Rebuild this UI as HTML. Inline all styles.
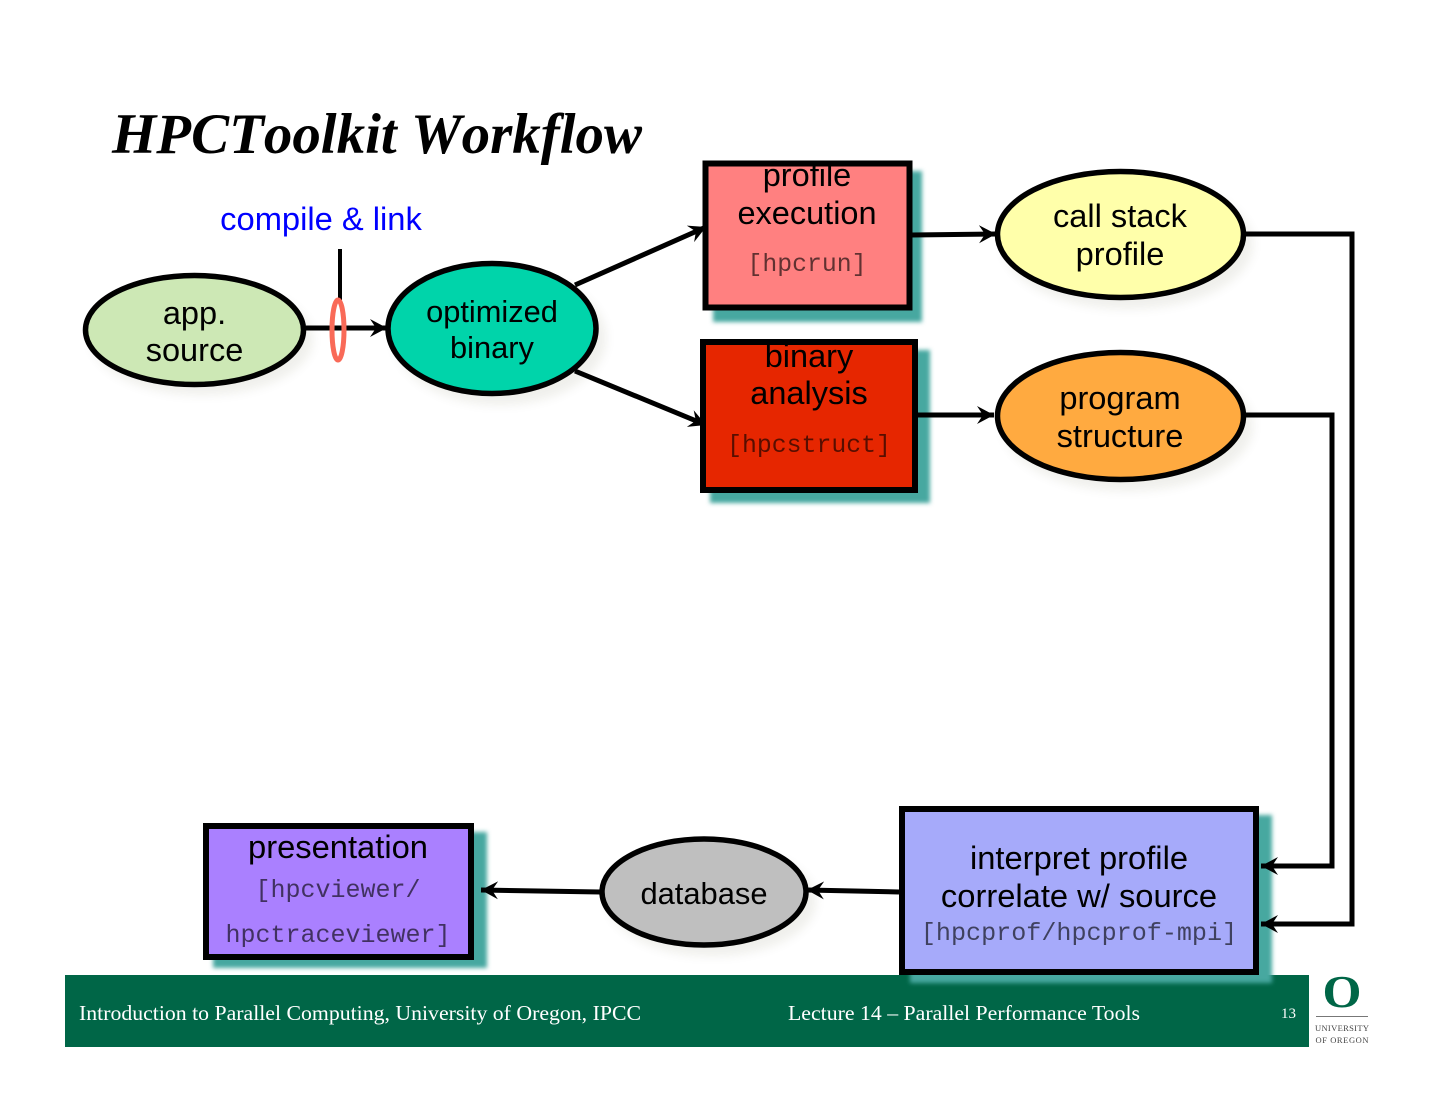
<!DOCTYPE html>
<html><head><meta charset="utf-8"><title>HPCToolkit Workflow</title>
<style>
html,body{margin:0;padding:0;background:#fff;width:1440px;height:1113px;overflow:hidden}
svg{display:block}
.s{font-family:"Liberation Sans",sans-serif;fill:#000;text-anchor:middle}
.m{font-family:"Liberation Mono",monospace;fill:#000;fill-opacity:.62;text-anchor:middle}
.f{font-family:"Liberation Serif",serif;fill:#fff;font-size:21px}
.c{fill:none;stroke:#000;stroke-width:5}
.b{stroke:#000;stroke-width:6}
.e{stroke:#000;stroke-width:5.5}
</style></head><body>
<svg width="1440" height="1113" viewBox="0 0 1440 1113" xmlns="http://www.w3.org/2000/svg">
<defs>
<filter id="bl" x="-20%" y="-20%" width="140%" height="140%"><feGaussianBlur stdDeviation="2.2"/></filter>
<filter id="bl2" x="-20%" y="-20%" width="140%" height="140%"><feGaussianBlur stdDeviation="5"/></filter>
<marker id="a" markerUnits="userSpaceOnUse" markerWidth="22" markerHeight="22" refX="17" refY="10" orient="auto">
<path d="M0 1 L17 10 L0 19 L6 10 Z" fill="#000"/></marker>
</defs>
<rect width="1440" height="1113" fill="#fff"/>

<text x="112" y="153" font-family="Liberation Serif,serif" font-weight="bold" font-style="italic" font-size="57" style="font-kerning:none" textLength="530" lengthAdjust="spacingAndGlyphs">HPCToolkit Workflow</text>

<!-- footer -->
<rect x="65" y="975" width="1244" height="72" fill="#006647"/>
<text class="f" x="79" y="1020" textLength="562" lengthAdjust="spacingAndGlyphs">Introduction to Parallel Computing, University of Oregon, IPCC</text>
<text class="f" x="788" y="1020" textLength="352" lengthAdjust="spacingAndGlyphs">Lecture 14 – Parallel Performance Tools</text>
<text x="1281" y="1018" font-family="Liberation Serif,serif" font-size="15" fill="#fff">13</text>
<text x="1342" y="1007" font-family="Liberation Serif,serif" font-weight="bold" font-size="45" fill="#006647" text-anchor="middle" textLength="39" lengthAdjust="spacingAndGlyphs">O</text>
<rect x="1316" y="1016" width="52" height="1" fill="#777"/>
<text x="1342" y="1031" font-family="Liberation Serif,serif" font-size="8.5" fill="#444" text-anchor="middle" textLength="54" lengthAdjust="spacing">UNIVERSITY</text>
<text x="1342" y="1043" font-family="Liberation Serif,serif" font-size="8.5" fill="#444" text-anchor="middle" textLength="53" lengthAdjust="spacing">OF OREGON</text>

<!-- shadows -->
<g fill="#5a5a30" opacity=".09" filter="url(#bl2)">
<ellipse cx="202" cy="339" rx="111" ry="56"/>
<ellipse cx="500" cy="338" rx="106" ry="67"/>
<ellipse cx="1128" cy="244" rx="125" ry="65"/>
<ellipse cx="1128" cy="426" rx="125" ry="65"/>
<ellipse cx="712" cy="901" rx="104" ry="55"/>
</g>
<g fill="#47a8a0" filter="url(#bl)">
<rect x="713" y="171" width="209" height="151"/>
<rect x="710" y="350" width="220" height="153"/>
<rect x="910" y="815" width="362" height="168"/>
<rect x="213" y="832" width="274" height="136"/>
</g>

<!-- connectors -->
<path class="c" d="M306 328 H387" marker-end="url(#a)"/>
<path d="M340 249 V300" stroke="#000" stroke-width="4" fill="none"/>
<path class="c" d="M575 285 L706 227" marker-end="url(#a)"/>
<path class="c" d="M575 371 L706 425" marker-end="url(#a)"/>
<path class="c" d="M912 235 L996 234" marker-end="url(#a)"/>
<path class="c" d="M918 415 H994" marker-end="url(#a)"/>
<path class="c" d="M1246 234 H1352 V924 H1261" marker-end="url(#a)"/>
<path class="c" d="M1246 415 H1332 V866 H1261" marker-end="url(#a)"/>
<path class="c" d="M899 892 L807 890" marker-end="url(#a)"/>
<path class="c" d="M600 892 L481 890" marker-end="url(#a)"/>
<ellipse cx="338" cy="330" rx="6" ry="30" fill="none" stroke="#f96a58" stroke-width="5"/>

<!-- nodes -->
<ellipse class="e" cx="194.5" cy="330" rx="109" ry="54.5" fill="#cde8b5"/>
<ellipse class="e" cx="492" cy="328.5" rx="104" ry="65" fill="#00d4aa"/>
<ellipse class="e" cx="1120.5" cy="234.5" rx="123" ry="63" fill="#ffffaa"/>
<ellipse class="e" cx="1120.5" cy="416" rx="123" ry="63.5" fill="#ffaa40"/>
<ellipse class="e" cx="704" cy="892" rx="102" ry="53" fill="#bfbfbf"/>
<rect class="b" x="705.5" y="163.5" width="204" height="144" fill="#ff8080"/>
<rect class="b" x="703" y="342" width="212" height="148" fill="#e62600"/>
<rect class="b" x="902" y="809" width="354" height="163" fill="#a6aafa"/>
<rect class="b" x="206" y="826" width="265" height="131" fill="#aa80ff"/>

<!-- labels -->
<text class="s" x="321" y="230" font-size="32.7" style="fill:#0000ff">compile &amp; link</text>
<text class="s" x="194.5" y="324" font-size="32.5">app.</text>
<text class="s" x="194.5" y="361" font-size="32.5">source</text>
<text class="s" x="492" y="322" font-size="30.8">optimized</text>
<text class="s" x="492" y="358" font-size="30.8">binary</text>
<text class="s" x="807" y="186" font-size="32.5">profile</text>
<text class="s" x="807" y="224" font-size="32.5">execution</text>
<text class="m" x="807" y="271" font-size="24.8">[hpcrun]</text>
<text class="s" x="809" y="367" font-size="32.5">binary</text>
<text class="s" x="809" y="404" font-size="32.5">analysis</text>
<text class="m" x="809" y="452" font-size="24.8">[hpcstruct]</text>
<text class="s" x="1120" y="227" font-size="32.6">call stack</text>
<text class="s" x="1120" y="265" font-size="32.6">profile</text>
<text class="s" x="1120" y="409" font-size="32.6">program</text>
<text class="s" x="1120" y="447" font-size="32.6">structure</text>
<text class="s" x="1079" y="869" font-size="32.7">interpret profile</text>
<text class="s" x="1079" y="907" font-size="32.7">correlate w/ source</text>
<text class="m" x="1079" y="940" font-size="25.1">[hpcprof/hpcprof-mpi]</text>
<text class="s" x="704" y="904" font-size="30.9">database</text>
<text class="s" x="338" y="858" font-size="32.7">presentation</text>
<text class="m" x="338" y="897" font-size="25">[hpcviewer/</text>
<text class="m" x="338" y="942" font-size="25">hpctraceviewer]</text>
</svg>
</body></html>
